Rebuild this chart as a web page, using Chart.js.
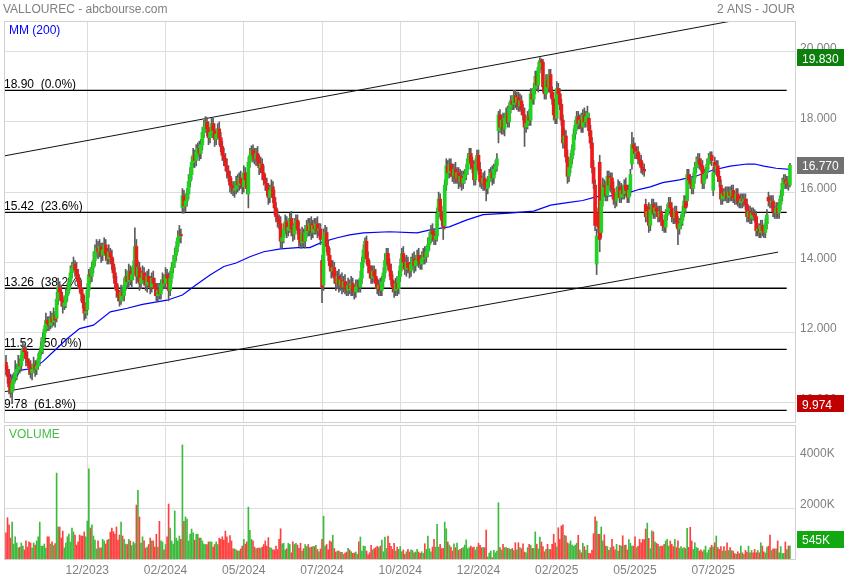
<!DOCTYPE html>
<html>
<head>
<meta charset="utf-8">
<title>VALLOUREC - abcbourse.com</title>
<script src="https://cdn.jsdelivr.net/npm/chart.js@4.4.1/dist/chart.umd.min.js"></script>
<style>
  html, body { margin: 0; padding: 0; background: #ffffff; }
  #wrap { position: relative; width: 844px; height: 580px; }
  #wrap canvas { position: absolute; left: 0; top: 0; }
</style>
</head>
<body>
<div id="wrap">
  <canvas id="price" width="844" height="580"></canvas>
  <canvas id="vol" width="844" height="580"></canvas>
</div>
<script>
// ---- daily session data (index 0 = first session shown) ----
const open = [
11.15,10.95,10.75,10.45,10.30,10.55,10.70,10.85,10.95,11.10,
11.05,11.35,11.55,11.45,11.25,11.15,11.00,10.85,10.95,11.10,
10.95,11.05,11.25,11.45,11.60,11.85,12.10,12.35,12.25,12.20,
12.40,12.30,12.50,12.40,12.95,13.30,13.15,12.90,12.75,12.85,
13.05,13.20,13.45,13.70,13.85,13.95,13.80,13.65,13.45,13.25,
13.10,12.85,12.55,12.65,13.20,13.65,13.60,13.85,14.05,14.30,
14.40,14.30,14.45,14.20,14.35,14.50,14.25,14.10,14.30,14.15,
13.95,13.70,13.40,13.20,13.05,12.90,13.15,13.05,13.35,13.60,
13.45,13.75,13.50,13.65,13.90,14.45,13.60,13.85,13.40,13.55,
13.70,13.50,13.35,13.60,13.45,13.30,13.55,13.40,13.25,13.05,
13.20,13.10,13.35,13.50,13.40,13.65,13.55,13.20,13.55,13.85,
14.00,14.20,14.45,14.70,14.80,15.55,15.90,15.60,15.75,15.95,
16.30,16.50,16.85,17.05,16.90,17.15,17.25,17.10,17.35,17.70,
17.85,18.00,17.80,17.55,17.70,17.95,17.75,17.50,17.65,17.80,
17.55,17.30,17.05,16.95,16.75,16.60,16.45,16.20,16.15,16.05,
16.10,16.30,16.20,16.40,16.25,16.15,16.55,16.35,15.95,16.85,
17.05,17.20,17.05,16.95,17.10,16.90,16.70,16.80,16.55,16.35,
16.25,16.05,15.85,16.05,16.15,15.85,15.55,15.30,15.20,15.10,
14.60,14.70,14.95,15.15,14.90,15.00,15.25,14.95,14.80,15.05,
15.20,14.95,14.65,14.55,14.80,14.60,14.85,15.05,14.90,15.10,
14.85,15.05,14.95,15.10,14.90,14.95,14.05,13.35,14.75,14.85,
14.45,14.20,13.90,13.75,13.85,13.55,13.40,13.60,13.35,13.50,
13.30,13.45,13.30,13.20,13.35,13.25,13.40,13.20,13.15,13.30,
13.35,13.30,13.55,14.00,14.35,14.60,14.10,13.90,13.70,13.55,
13.75,13.60,13.40,13.25,13.35,13.20,13.45,13.70,14.05,14.25,
13.95,13.75,13.50,13.30,13.20,13.40,13.25,13.60,13.90,14.25,
14.00,13.80,14.00,13.85,13.75,13.95,14.10,13.90,14.05,14.20,
14.05,13.95,14.10,14.25,14.15,14.30,14.50,14.70,14.90,14.80,
14.65,14.75,15.40,15.80,15.45,15.20,15.05,16.20,16.75,16.55,
16.80,16.60,16.45,16.65,16.40,16.55,16.30,16.45,16.25,16.40,
16.50,16.65,16.95,17.10,16.85,16.70,16.35,16.80,17.05,16.65,
16.30,16.25,16.40,16.20,16.10,16.30,16.45,16.55,16.40,16.65,
16.75,17.75,18.20,17.85,18.05,17.80,18.10,18.25,18.00,18.40,
18.60,18.50,18.75,18.55,18.70,18.45,18.60,18.35,18.20,17.85,
17.95,18.15,18.05,18.80,18.65,18.95,19.30,19.05,19.55,19.75,
19.70,19.00,18.80,19.20,19.00,19.35,18.85,18.65,18.20,18.10,
18.95,18.80,18.50,18.05,17.40,17.60,17.00,16.45,16.70,16.95,
17.20,17.65,17.90,18.15,17.95,18.05,17.85,18.20,18.00,18.15,
18.10,17.75,17.40,16.70,16.20,13.95,15.40,16.85,14.85,15.75,
16.20,16.15,15.90,16.45,16.20,16.40,16.10,15.80,15.75,16.00,
16.15,15.85,16.05,15.95,16.20,16.05,15.85,16.05,16.80,17.35,
17.25,17.10,17.15,16.95,16.90,16.70,16.65,15.65,15.30,15.55,
15.05,15.50,15.65,15.40,15.55,15.45,15.30,15.45,15.20,15.05,
15.00,15.35,15.50,15.70,15.55,15.30,15.25,15.45,15.15,14.95,
15.10,15.20,15.45,15.75,15.75,16.50,16.35,16.25,16.10,16.40,
16.70,16.85,16.95,16.80,16.75,16.25,16.50,16.55,16.80,16.95,
17.05,16.05,16.85,16.65,16.75,16.45,16.20,15.80,15.95,15.90,
16.00,15.85,16.00,15.90,16.05,15.85,15.80,15.95,15.75,15.70,
15.80,15.75,15.80,15.65,15.30,15.45,15.25,15.40,15.35,15.30,
14.90,14.95,14.85,15.05,14.90,14.85,15.10,15.85,15.75,15.70,
15.75,15.45,15.40,15.55,15.40,15.65,15.90,16.25,16.35,16.25,
16.30,16.20
];
const high = [
11.35,11.05,10.95,10.60,10.80,10.85,11.20,11.10,11.35,11.25,
11.50,11.75,11.65,11.60,11.45,11.25,11.20,11.10,11.30,11.20,
11.20,11.40,11.55,11.85,12.00,12.20,12.55,12.45,12.45,12.60,
12.55,12.70,12.60,13.15,13.55,13.45,13.35,13.05,13.00,13.25,
13.40,13.55,13.90,14.00,14.15,14.05,14.00,13.80,13.55,13.45,
13.25,13.05,12.80,13.40,13.80,13.85,14.00,14.30,14.50,14.65,
14.60,14.65,14.55,14.55,14.70,14.65,14.40,14.50,14.40,14.35,
14.10,13.85,13.60,13.35,13.20,13.35,13.30,13.55,13.80,13.75,
13.95,13.90,13.85,14.05,14.98,14.65,14.05,14.00,13.75,13.90,
13.85,13.70,13.75,13.80,13.60,13.70,13.75,13.55,13.40,13.40,
13.40,13.50,13.70,13.65,13.85,13.80,13.70,13.75,14.00,14.20,
14.40,14.60,14.90,15.05,14.95,16.10,16.05,15.95,16.10,16.50,
16.70,17.00,17.25,17.20,17.35,17.40,17.45,17.50,17.85,18.05,
18.15,18.12,18.00,17.85,18.10,18.10,17.95,17.80,17.95,18.00,
17.70,17.45,17.25,17.10,16.95,16.75,16.60,16.40,16.30,16.30,
16.45,16.50,16.55,16.60,16.40,16.75,16.70,16.55,17.00,17.25,
17.32,17.35,17.25,17.25,17.30,17.05,17.00,16.95,16.75,16.50,
16.40,16.25,16.20,16.35,16.30,16.05,15.70,15.50,15.35,15.30,
14.90,15.10,15.35,15.30,15.20,15.40,15.45,15.10,15.25,15.35,
15.35,15.15,14.80,15.00,14.95,15.05,15.20,15.25,15.25,15.30,
15.20,15.25,15.25,15.30,15.10,15.10,14.20,14.95,15.05,15.00,
14.60,14.40,14.05,14.05,14.00,13.75,13.75,13.80,13.65,13.70,
13.60,13.65,13.45,13.55,13.50,13.60,13.55,13.35,13.50,13.50,
13.50,13.75,14.15,14.50,14.70,14.75,14.30,14.05,13.90,13.90,
13.90,13.80,13.55,13.50,13.55,13.60,13.85,14.25,14.40,14.40,
14.10,13.95,13.65,13.45,13.55,13.60,13.75,14.10,14.40,14.45,
14.15,14.20,14.15,14.00,14.15,14.25,14.30,14.20,14.35,14.40,
14.20,14.30,14.40,14.45,14.45,14.70,14.85,15.05,15.10,14.95,
14.90,15.55,16.00,15.95,15.60,15.40,16.35,16.95,16.90,16.95,
16.95,16.80,16.80,16.85,16.70,16.70,16.65,16.60,16.60,16.65,
16.80,17.10,17.25,17.25,17.00,16.90,16.95,17.20,17.20,16.85,
16.45,16.55,16.60,16.35,16.45,16.65,16.70,16.75,16.80,16.90,
17.10,18.30,18.35,18.20,18.25,18.25,18.40,18.45,18.55,18.75,
18.75,18.90,18.90,18.85,18.85,18.80,18.75,18.50,18.40,18.10,
18.30,18.35,18.95,18.95,19.10,19.45,19.45,19.70,19.83,19.80,
19.78,19.15,19.35,19.35,19.50,19.50,19.00,18.85,18.35,19.15,
19.10,18.95,18.65,18.20,17.80,17.75,17.20,16.85,17.10,17.35,
17.80,18.05,18.30,18.30,18.20,18.25,18.35,18.40,18.30,18.45,
18.25,17.90,17.55,16.90,16.35,14.95,15.55,17.05,15.95,16.40,
16.35,16.30,16.60,16.60,16.55,16.55,16.30,15.95,16.15,16.35,
16.30,16.25,16.20,16.35,16.40,16.20,16.20,16.65,17.70,17.55,
17.40,17.30,17.30,17.10,17.05,16.85,16.80,15.80,15.60,15.70,
15.65,15.80,15.80,15.70,15.70,15.60,15.60,15.60,15.35,15.20,
15.50,15.65,15.85,15.85,15.70,15.45,15.60,15.60,15.30,15.25,
15.35,15.60,15.90,15.90,16.65,16.65,16.50,16.40,16.55,16.85,
17.00,17.10,17.10,16.95,16.90,16.65,16.70,16.95,17.10,17.15,
17.15,16.70,17.00,16.90,16.90,16.60,16.35,16.10,16.10,16.15,
16.15,16.15,16.15,16.20,16.20,16.00,16.10,16.10,15.90,15.95,
15.95,15.95,15.95,15.80,15.60,15.60,15.55,15.55,15.50,15.45,
15.10,15.10,15.20,15.20,15.05,15.25,15.50,16.00,15.90,15.90,
15.90,15.60,15.70,15.70,15.80,16.05,16.40,16.50,16.50,16.45,
16.45,16.82
];
const low = [
10.80,10.55,10.25,10.15,9.974,10.35,10.60,10.65,10.85,10.85,
10.90,11.20,11.30,11.05,11.05,10.80,10.70,10.65,10.85,10.75,
10.80,10.95,11.05,11.35,11.40,11.70,12.00,12.05,12.05,12.10,
12.15,12.20,12.15,12.30,12.80,12.95,12.75,12.55,12.65,12.70,
12.90,13.10,13.30,13.55,13.75,13.60,13.50,13.30,13.15,12.90,
12.70,12.35,12.40,12.50,13.00,13.40,13.45,13.70,13.90,14.15,
14.10,14.15,14.00,14.05,14.20,14.05,13.95,13.95,14.00,13.80,
13.55,13.25,13.00,12.90,12.75,12.80,12.90,12.90,13.20,13.25,
13.30,13.35,13.30,13.50,13.75,13.40,13.45,13.20,13.25,13.40,
13.35,13.20,13.15,13.30,13.10,13.15,13.25,13.05,12.90,12.90,
12.95,12.95,13.20,13.25,13.25,13.40,12.90,13.05,13.40,13.70,
13.85,14.05,14.30,14.55,14.55,15.40,15.40,15.45,15.60,15.80,
16.15,16.35,16.70,16.70,16.75,17.00,16.90,16.95,17.20,17.55,
17.70,17.60,17.35,17.40,17.55,17.55,17.30,17.35,17.50,17.35,
17.15,16.90,16.75,16.60,16.40,16.30,16.00,15.95,15.90,15.85,
15.95,16.00,16.05,16.10,15.95,16.00,16.20,15.95,15.55,16.70,
16.90,16.85,16.80,16.75,16.75,16.50,16.55,16.35,16.20,16.05,
15.90,15.65,15.70,15.85,15.70,15.35,15.15,15.00,14.95,14.40,
14.40,14.55,14.80,14.70,14.75,14.85,14.75,14.60,14.65,14.90,
14.80,14.45,14.40,14.40,14.45,14.40,14.70,14.75,14.75,14.65,
14.70,14.80,14.80,14.70,14.75,14.50,12.85,13.20,14.55,14.30,
14.05,13.75,13.55,13.60,13.40,13.20,13.25,13.15,13.20,13.10,
13.15,13.10,13.05,13.05,13.10,13.05,13.05,12.95,13.00,13.15,
13.15,13.15,13.40,13.85,14.20,13.95,13.70,13.55,13.40,13.40,
13.45,13.25,13.10,13.05,13.05,13.05,13.30,13.55,13.90,13.80,
13.60,13.35,13.15,13.00,13.05,13.05,13.10,13.45,13.75,13.85,
13.65,13.60,13.70,13.55,13.60,13.80,13.70,13.75,13.90,13.85,
13.80,13.80,13.95,13.95,14.00,14.15,14.35,14.55,14.60,14.50,
14.50,14.60,15.25,15.30,15.05,14.65,14.95,16.05,16.40,16.40,
16.45,16.30,16.25,16.25,16.25,16.10,16.15,16.05,16.10,16.25,
16.35,16.50,16.80,16.65,16.55,16.20,16.20,16.60,16.50,16.15,
16.10,16.05,16.05,15.75,15.95,16.15,16.30,16.20,16.25,16.50,
16.60,17.40,17.70,17.65,17.65,17.60,17.95,17.85,17.85,18.25,
18.35,18.35,18.40,18.35,18.30,18.30,18.20,18.05,17.30,17.70,
17.80,17.90,17.90,18.50,18.50,18.80,18.90,18.85,19.40,19.50,
18.85,18.65,18.65,18.85,18.85,18.70,18.50,18.05,17.95,17.95,
18.65,18.35,17.90,17.25,17.25,16.85,16.25,16.30,16.55,16.80,
17.05,17.50,17.75,17.80,17.80,17.70,17.70,17.85,17.85,18.00,
17.60,17.25,16.55,16.10,14.90,13.65,14.85,14.30,14.70,15.60,
15.95,15.75,15.75,16.05,16.00,15.95,15.65,15.55,15.60,15.85,
15.70,15.70,15.80,15.80,15.90,15.70,15.70,15.90,16.65,17.10,
16.95,16.95,16.80,16.75,16.55,16.50,16.45,15.15,15.15,14.85,
14.90,15.35,15.25,15.25,15.30,15.15,15.15,15.05,14.90,14.85,
14.85,15.20,15.35,15.40,15.15,15.10,15.10,15.00,14.50,14.80,
14.95,15.05,15.30,15.40,15.60,16.20,16.10,15.95,15.95,16.25,
16.55,16.70,16.65,16.60,16.10,16.10,16.35,16.40,16.65,16.80,
16.75,15.90,16.50,16.50,16.30,16.15,15.65,15.65,15.75,15.75,
15.70,15.70,15.75,15.75,15.70,15.65,15.65,15.60,15.55,15.55,
15.55,15.60,15.50,15.15,15.15,15.10,15.10,15.20,15.15,14.75,
14.75,14.70,14.70,14.75,14.70,14.70,14.95,15.60,15.55,15.55,
15.30,15.25,15.25,15.25,15.25,15.50,15.75,16.10,16.10,16.10,
16.05,16.15
];
const close = [
10.95,10.75,10.45,10.30,10.55,10.70,10.85,10.95,11.10,11.05,
11.35,11.55,11.45,11.25,11.15,11.00,10.85,10.95,11.10,10.95,
11.05,11.25,11.45,11.60,11.85,12.10,12.35,12.25,12.20,12.40,
12.30,12.50,12.35,12.95,13.30,13.15,12.90,12.75,12.85,13.05,
13.20,13.45,13.70,13.85,13.95,13.80,13.65,13.45,13.25,13.10,
12.85,12.55,12.60,13.20,13.65,13.60,13.85,14.05,14.30,14.40,
14.30,14.45,14.20,14.35,14.50,14.25,14.10,14.30,14.15,13.95,
13.70,13.40,13.20,13.05,12.90,13.15,13.05,13.35,13.60,13.45,
13.75,13.50,13.65,13.90,14.45,13.60,13.85,13.40,13.55,13.70,
13.50,13.35,13.60,13.45,13.30,13.55,13.40,13.25,13.05,13.20,
13.10,13.35,13.50,13.40,13.65,13.55,13.20,13.55,13.85,14.00,
14.20,14.45,14.70,14.80,14.75,15.90,15.60,15.75,15.95,16.30,
16.50,16.85,17.05,16.90,17.15,17.25,17.10,17.35,17.70,17.85,
18.00,17.80,17.55,17.70,17.95,17.75,17.50,17.65,17.80,17.55,
17.30,17.05,16.95,16.75,16.60,16.45,16.20,16.15,16.05,16.10,
16.30,16.20,16.40,16.25,16.15,16.55,16.35,16.10,16.85,17.05,
17.20,17.05,16.95,17.10,16.90,16.70,16.80,16.55,16.35,16.25,
16.05,15.85,16.05,16.15,15.85,15.55,15.30,15.20,15.10,14.60,
14.70,14.95,15.15,14.90,15.00,15.25,14.95,14.80,15.05,15.20,
14.95,14.65,14.55,14.80,14.60,14.85,15.05,14.90,15.10,14.85,
15.05,14.95,15.10,14.90,14.95,14.65,13.30,14.75,14.85,14.45,
14.20,13.90,13.75,13.85,13.55,13.40,13.60,13.35,13.50,13.30,
13.45,13.30,13.20,13.35,13.25,13.40,13.20,13.15,13.30,13.35,
13.30,13.55,14.00,14.35,14.60,14.10,13.90,13.70,13.55,13.75,
13.60,13.40,13.25,13.35,13.20,13.45,13.70,14.05,14.25,13.95,
13.75,13.50,13.30,13.20,13.40,13.25,13.60,13.90,14.25,14.00,
13.80,14.00,13.85,13.75,13.95,14.10,13.90,14.05,14.20,14.05,
13.95,14.10,14.25,14.15,14.30,14.50,14.70,14.90,14.80,14.65,
14.75,15.40,15.80,15.45,15.20,15.00,16.20,16.75,16.55,16.80,
16.60,16.45,16.65,16.40,16.55,16.30,16.45,16.25,16.40,16.50,
16.65,16.95,17.10,16.85,16.70,16.35,16.80,17.05,16.65,16.30,
16.25,16.40,16.20,16.10,16.30,16.45,16.55,16.40,16.65,16.75,
16.95,18.20,17.85,18.05,17.80,18.10,18.25,18.00,18.40,18.60,
18.50,18.75,18.55,18.70,18.45,18.60,18.35,18.20,17.85,17.95,
18.15,18.05,18.80,18.65,18.95,19.30,19.05,19.55,19.75,19.70,
19.00,18.80,19.20,19.00,19.35,18.85,18.65,18.20,18.10,18.95,
18.80,18.50,18.05,17.40,17.60,17.00,16.45,16.70,16.95,17.20,
17.65,17.90,18.15,17.95,18.05,17.85,18.20,18.00,18.15,18.25,
17.75,17.40,16.70,16.25,15.05,14.75,15.00,14.65,15.75,16.20,
16.15,15.90,16.45,16.20,16.40,16.10,15.80,15.75,16.00,16.15,
15.85,16.05,15.95,16.20,16.05,15.85,16.05,16.50,17.35,17.25,
17.10,17.15,16.95,16.90,16.70,16.65,16.60,15.30,15.45,15.05,
15.50,15.65,15.40,15.55,15.45,15.30,15.45,15.20,15.05,15.00,
15.35,15.50,15.70,15.55,15.30,15.25,15.45,15.15,14.95,15.10,
15.20,15.45,15.75,15.55,16.50,16.35,16.25,16.10,16.40,16.70,
16.85,16.95,16.80,16.75,16.25,16.50,16.55,16.80,16.95,17.05,
16.90,16.55,16.65,16.75,16.45,16.30,15.80,15.95,15.90,16.00,
15.85,16.00,15.90,16.05,15.85,15.80,15.95,15.75,15.70,15.80,
15.75,15.80,15.65,15.30,15.45,15.25,15.40,15.35,15.30,14.90,
14.95,14.85,15.05,14.90,14.85,15.10,15.35,15.75,15.70,15.75,
15.45,15.40,15.55,15.40,15.65,15.90,16.25,16.35,16.25,16.30,
16.20,16.77
];
// traded volume, thousands of shares
const volume = [
1050,1640,1360,850,1470,620,900,660,470,500,
660,540,390,740,500,700,660,460,660,580,
740,900,1470,540,540,620,460,900,900,620,
700,560,640,3370,1280,1280,850,1120,470,660,
900,1000,700,1240,1090,970,580,700,970,930,
930,1090,900,1510,3530,1240,1360,930,770,430,
740,470,470,800,740,620,770,800,1080,1240,
1100,1000,1280,770,970,1470,930,800,620,600,
800,740,560,700,640,2130,2700,1670,660,900,
740,460,500,600,850,740,740,500,1000,500,
1500,740,700,390,600,900,2170,1240,740,620,
1900,850,740,930,800,4460,1500,1670,1590,740,
1000,1200,1050,770,1000,1000,850,850,740,620,
600,600,700,700,700,500,600,700,600,850,
800,900,770,1120,900,660,950,740,430,430,
390,350,350,430,540,800,620,700,2050,1150,
800,740,500,430,460,460,460,500,600,740,
540,870,480,460,390,390,540,410,800,1210,
630,650,390,440,650,600,280,700,600,650,
580,450,650,350,440,600,520,600,480,500,
520,520,570,410,320,430,800,1700,540,600,
390,740,700,960,450,310,350,350,300,300,
220,270,310,450,390,320,260,270,310,220,
700,890,350,540,530,350,200,280,570,390,
440,480,530,480,540,770,320,890,450,930,
650,530,410,650,350,500,410,520,320,390,
220,320,410,310,390,370,280,310,410,310,
260,320,260,630,410,930,440,320,500,800,
500,1380,500,610,440,450,1470,1210,700,580,
500,350,630,480,660,380,410,450,480,580,
780,440,480,540,480,500,390,500,650,570,
480,480,480,1160,120,270,350,90,370,280,
350,2220,480,390,610,480,480,450,440,410,
450,370,670,390,670,480,440,630,310,280,
480,610,570,450,450,1090,610,430,890,700,
520,320,410,610,410,410,610,1000,660,500,
1250,800,1320,1360,960,930,670,630,740,580,
530,580,650,960,390,280,650,520,370,570,
260,250,380,1020,1670,1510,1000,1000,1280,740,
980,540,520,370,480,800,520,390,610,350,
570,540,940,570,580,390,790,650,540,540,
900,480,530,800,670,800,790,1200,1430,840,
440,1130,1090,700,650,610,520,540,540,610,
740,800,540,740,610,520,800,480,740,450,
520,450,480,440,1230,490,1270,740,410,670,
480,460,350,390,320,390,540,280,390,480,
570,500,670,930,480,410,520,350,520,350,
670,370,480,370,340,250,220,320,250,540,
280,220,370,310,540,280,370,280,410,280,
370,280,670,540,320,270,500,540,970,370,
430,430,430,740,280,520,250,260,700,400,
540,545
];

// 200-session moving average, sampled at these session indices
const maIdx = [2,5,9,18,24,31,40,48,57,68,79,89,105,115,124,133,142,150,159,168,
  179,190,198,207,216,224,233,250,268,278,289,300,311,328,344,355,366,376,385,394,
  405,413,420,428,439,450,461,472,483,488,494,502,511];
const maVal = [10.87,10.55,10.92,10.98,11.17,11.46,11.83,12.11,12.21,12.59,12.69,12.80,12.92,13.07,13.36,13.64,13.88,13.98,14.16,14.30,
  14.38,14.42,14.42,14.59,14.70,14.78,14.84,14.87,14.84,14.94,15.01,15.20,15.36,15.40,15.46,15.63,15.70,15.76,15.87,15.89,
  15.97,16.08,16.15,16.27,16.35,16.46,16.63,16.74,16.80,16.80,16.74,16.68,16.65];

// Fibonacci retracement levels
const fibVal = [18.90, 15.42, 13.26, 11.52, 9.78];
const fibText = ['18.90  (0.0%)', '15.42  (23.6%)', '13.26  (38.2%)', '11.52  (50.0%)', '9.78  (61.8%)'];
const fibSpan = [-1.3, 508.9];

// trend channel (session index, price)
const upperIdx = [-1.3, 514.3];
const upperVal = [17.03, 21.21];
const lowerIdx = [-1.3, 503.3];
const lowerVal = [10.31, 14.29];

// axes
const tickIdx = [53, 104, 155, 206, 257, 308, 359, 410, 461];
const tickLabels = ['12/2023', '02/2024', '05/2024', '07/2024', '10/2024', '12/2024', '02/2025', '05/2025', '07/2025'];
const priceTicks = [10, 12, 14, 16, 18, 20];
const volTicks = [2000, 4000];

// ---- rendering ----
const FONT = "'Liberation Sans', Arial, Helvetica, sans-serif";
Chart.defaults.font.family = FONT;
Chart.defaults.font.size = 12;
Chart.defaults.color = '#808080';

const X_MIN = -1.3, X_MAX = 514.3;
const P_MIN = 9.450, P_MAX = 20.875;
const V_MAX = 5233;
const GRID = '#dddddd';
const FRAME = '#d0d0d0';

const idx = close.map((_, i) => i);
const isUp = idx.map(i => close[i] >= open[i]);

function xScale(showLabels) {
  return {
    type: 'linear', min: X_MIN, max: X_MAX, offset: false, bounds: 'data',
    afterBuildTicks: s => { s.ticks = tickIdx.map(v => ({ value: v })); },
    grid: { color: GRID, drawTicks: false, offset: false },
    border: { display: false },
    ticks: {
      display: showLabels, autoSkip: false, maxRotation: 0, minRotation: 0, padding: 3,
      color: '#808080', callback: (v, i) => tickLabels[i]
    },
    afterFit: s => { s.height = showLabels ? 20 : 0; }
  };
}

function drawBadge(ctx, yMid, text, bg) {
  ctx.fillStyle = bg;
  ctx.fillRect(797, Math.round(yMid - 8.5), 47, 17);
  ctx.fillStyle = '#ffffff';
  ctx.textAlign = 'left';
  ctx.textBaseline = 'alphabetic';
  ctx.fillText(text, 802, Math.round(yMid) + 4.5);
}

const priceDecor = {
  id: 'priceDecor',
  beforeDatasetsDraw(chart) {
    const { ctx, chartArea: a, scales: { y } } = chart;
    ctx.save();
    ctx.font = '12px ' + FONT;
    ctx.textAlign = 'left';
    ctx.textBaseline = 'alphabetic';
    ctx.fillStyle = '#000000';
    fibVal.forEach((v, k) => ctx.fillText(fibText[k], a.left, Math.round(y.getPixelForValue(v)) - 2));
    ctx.fillStyle = '#0000ff';
    ctx.fillText('MM (200)', a.left + 5, a.top + 12.5);
    ctx.restore();
  },
  afterDraw(chart) {
    const { ctx, chartArea: a, scales: { y } } = chart;
    ctx.save();
    ctx.strokeStyle = FRAME;
    ctx.lineWidth = 1;
    ctx.strokeRect(a.left + 0.5, a.top + 0.5, a.right - a.left, a.bottom - a.top);
    ctx.font = '12px ' + FONT;
    ctx.fillStyle = '#808080';
    ctx.textBaseline = 'alphabetic';
    ctx.textAlign = 'left';
    ctx.fillText('VALLOUREC - abcbourse.com', 3, 13);
    ctx.textAlign = 'right';
    ctx.fillText('2 ANS - JOUR', a.right, 13);
    const hi = Math.max(...high), lo = Math.min(...low), last = close[close.length - 1];
    drawBadge(ctx, y.getPixelForValue(hi), hi.toFixed(3), '#0c7f0c');
    drawBadge(ctx, y.getPixelForValue(last), last.toFixed(3), '#717171');
    drawBadge(ctx, y.getPixelForValue(lo), lo.toFixed(3), '#c00000');
    ctx.restore();
  }
};

const volDecor = {
  id: 'volDecor',
  afterDraw(chart) {
    const { ctx, chartArea: a, scales: { y } } = chart;
    ctx.save();
    ctx.strokeStyle = FRAME;
    ctx.lineWidth = 1;
    ctx.strokeRect(a.left + 0.5, a.top + 0.5, a.right - a.left, a.bottom - a.top - 1);
    ctx.font = '12px ' + FONT;
    ctx.textAlign = 'left';
    ctx.textBaseline = 'alphabetic';
    ctx.fillStyle = '#44bb44';
    ctx.fillText('VOLUME', a.left + 5, a.top + 13);
    const lastVol = volume[volume.length - 1];
    drawBadge(ctx, y.getPixelForValue(lastVol) - 6.5, lastVol + 'K', '#12a812');
    ctx.restore();
  }
};

const lineDs = (xs, ys, color, width, order) => ({
  type: 'line',
  data: xs.map((v, k) => ({ x: v, y: ys[k] })),
  borderColor: color, borderWidth: width, pointRadius: 0, tension: 0, fill: false, order
});

const priceDatasets = [
  {
    type: 'bar', label: 'range', grouped: false, order: 2,
    data: idx.map(i => ({ x: i, y: [low[i], high[i]] })),
    backgroundColor: '#5c5c5c', barThickness: 1
  },
  {
    type: 'bar', label: 'body', grouped: false, order: 1, minBarLength: 1,
    data: idx.map(i => ({ x: i, y: [open[i], close[i]] })),
    backgroundColor: idx.map(i => isUp[i] ? '#1fd41f' : '#ec1a1a'), barThickness: 3
  },
  lineDs(maIdx, maVal, '#0000ff', 1.2, 5),
  lineDs(upperIdx, upperVal, '#111111', 1, 6),
  lineDs(lowerIdx, lowerVal, '#111111', 1, 6),
  ...fibVal.map(v => lineDs(fibSpan, [v, v], '#000000', 1.3, 6))
];

new Chart(document.getElementById('price'), {
  type: 'bar',
  data: { datasets: priceDatasets },
  options: {
    responsive: false, animation: false, devicePixelRatio: 1,
    layout: { padding: { left: 4, top: 21, right: 0, bottom: 158 } },
    plugins: { legend: { display: false }, tooltip: { enabled: false } },
    events: [],
    scales: {
      x: xScale(false),
      y: {
        position: 'right', min: P_MIN, max: P_MAX, bounds: 'data',
        afterBuildTicks: s => { s.ticks = priceTicks.map(v => ({ value: v })); },
        grid: { color: GRID, drawTicks: false },
        border: { display: false },
        ticks: { padding: 5, labelOffset: -3.5, color: '#808080', callback: v => Number(v).toFixed(3) },
        afterFit: s => { s.width = 49; }
      }
    }
  },
  plugins: [priceDecor]
});

new Chart(document.getElementById('vol'), {
  type: 'bar',
  data: {
    datasets: [{
      type: 'bar', label: 'volume', grouped: false,
      data: idx.map(i => ({ x: i, y: volume[i] })),
      backgroundColor: idx.map(i => isUp[i] ? '#3dbb3d' : '#ff4040'), barThickness: 1
    }]
  },
  options: {
    responsive: false, animation: false, devicePixelRatio: 1,
    layout: { padding: { left: 4, top: 425, right: 0, bottom: 0 } },
    plugins: { legend: { display: false }, tooltip: { enabled: false } },
    events: [],
    scales: {
      x: xScale(true),
      y: {
        position: 'right', min: 0, max: V_MAX, bounds: 'data',
        afterBuildTicks: s => { s.ticks = volTicks.map(v => ({ value: v })); },
        grid: { color: GRID, drawTicks: false },
        border: { display: false },
        ticks: { padding: 5, labelOffset: -3.5, color: '#808080', callback: v => v + 'K' },
        afterFit: s => { s.width = 49; }
      }
    }
  },
  plugins: [volDecor]
});
</script>
</body>
</html>
